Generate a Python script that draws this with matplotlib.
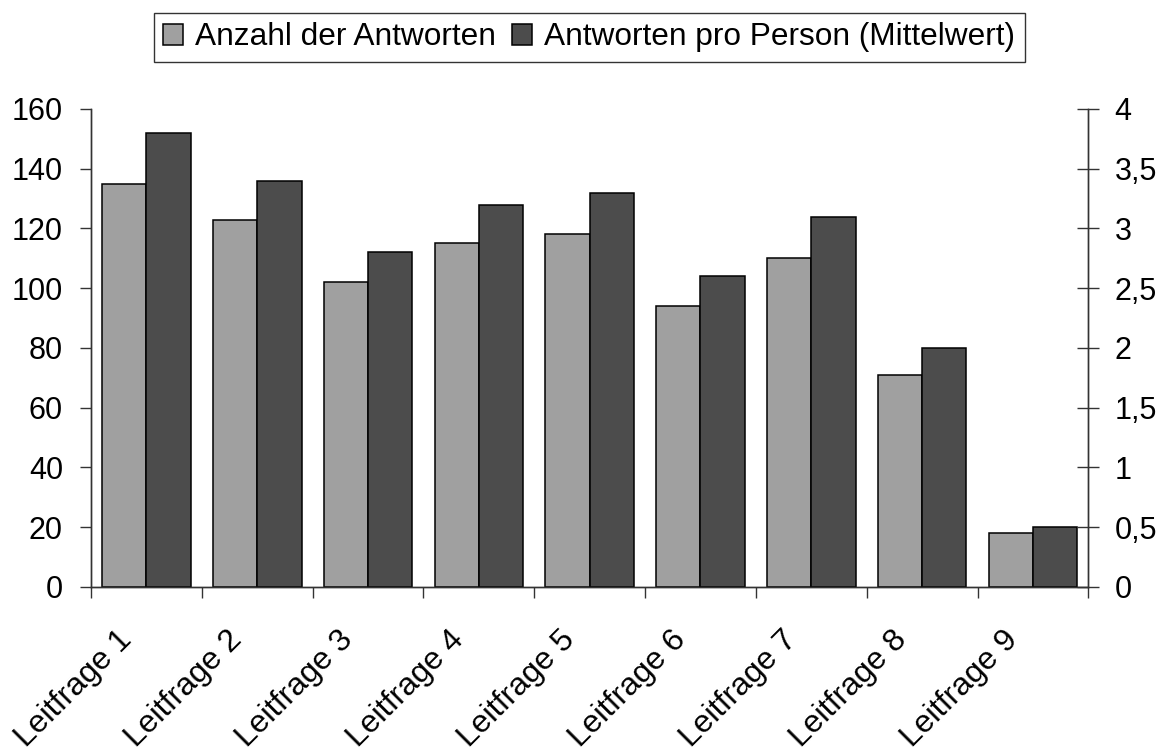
import matplotlib.pyplot as plt
import matplotlib.transforms as mtransforms
import numpy as np
from matplotlib.ticker import FuncFormatter

plt.rcParams["font.family"] = ["Liberation Sans", "DejaVu Sans"]

# data
categories = ["Leitfrage 1", "Leitfrage 2", "Leitfrage 3", "Leitfrage 4",
              "Leitfrage 5", "Leitfrage 6", "Leitfrage 7", "Leitfrage 8",
              "Leitfrage 9"]
anzahl = [135, 123, 102, 115, 118, 94, 110, 71, 18]
mittelwert = [3.8, 3.4, 2.8, 3.2, 3.3, 2.6, 3.1, 2.0, 0.5]
series_names = ["Anzahl der Antworten", "Antworten pro Person (Mittelwert)"]

light = "#a0a0a0"
dark = "#4c4c4c"
axis_col = "#333333"

fig = plt.figure(figsize=(11.67, 7.49), dpi=100)
ax = fig.add_axes([0.078, 0.2163, 0.8546, 0.6382])
ax2 = ax.twinx()

x = np.arange(len(categories)) + 0.5
w = 0.4
b1 = ax.bar(x - w / 2, anzahl, w, color=light, edgecolor="black", linewidth=1.1)
b2 = ax2.bar(x + w / 2, mittelwert, w, color=dark, edgecolor="black", linewidth=1.1)

ax.set_xlim(0, len(categories))
ax.set_ylim(0, 160)
ax2.set_ylim(0, 4)
ax.set_yticks(range(0, 161, 20))
ax2.set_yticks(np.arange(0, 4.01, 0.5))
ax2.yaxis.set_major_formatter(
    FuncFormatter(lambda v, p: f"{v:g}".replace(".", ",")))

# ticks between the groups, labels drawn by hand below the group centres
ax.set_xticks(np.arange(len(categories) + 1))
ax.set_xticklabels([])
ax.tick_params(axis="x", length=8, width=1, color=axis_col)
offset = mtransforms.ScaledTranslation(-0.30, -0.38, fig.dpi_scale_trans)
for xi, lab in zip(x, categories):
    ax.text(xi, 0, lab, transform=ax.get_xaxis_transform() + offset,
            rotation=45, rotation_mode="anchor", ha="right", va="top",
            fontsize=23, clip_on=False)

ax.tick_params(axis="y", length=7.7, width=1, color=axis_col,
               labelsize=22, pad=12.5)
ax2.tick_params(axis="y", direction="inout", length=16, width=1,
                color=axis_col, labelsize=22, pad=10.8)

for a in (ax, ax2):
    a.spines["top"].set_visible(False)
    for s in ("left", "right", "bottom"):
        a.spines[s].set_color(axis_col)
        a.spines[s].set_linewidth(1)

leg = fig.legend([b1, b2], series_names,
                 loc="center", bbox_to_anchor=(0.505, 0.950), ncol=2,
                 fontsize=22.8, frameon=True, fancybox=False,
                 handlelength=0.64, handleheight=0.64, handletextpad=0.38,
                 columnspacing=0.5, borderpad=0.3, borderaxespad=0)
leg.get_frame().set_edgecolor("black")
leg.get_frame().set_linewidth(1)

fig.savefig("out.png", dpi=100)
